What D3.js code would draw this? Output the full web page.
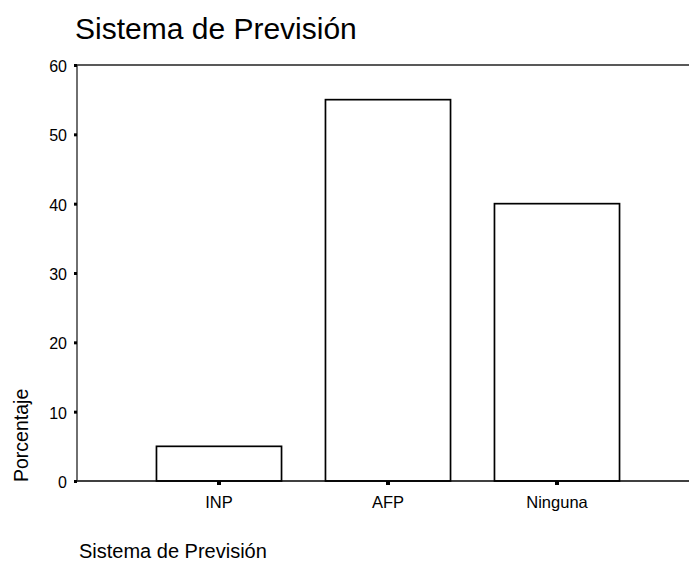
<!DOCTYPE html>
<html>
<head>
<meta charset="utf-8">
<script src="https://cdn.jsdelivr.net/npm/d3@7"></script>
<style>
  html, body { margin: 0; padding: 0; background: #fff; }
  svg { display: block; font-family: "Liberation Sans", Arial, sans-serif; }
</style>
</head>
<body>
<script>
const categories = ["INP", "AFP", "Ninguna"];
const values = [5, 55, 40];
const yTicks = [0, 10, 20, 30, 40, 50, 60];
const title = "Sistema de Previsión";
const xTitle = "Sistema de Previsión";
const yTitle = "Porcentaje";

const W = 689, H = 563;
const svg = d3.select("body").append("svg").attr("width", W).attr("height", H);

const x0 = 77, yTop = 65, yBot = 481;
const y = d3.scaleLinear().domain([0, 60]).range([yBot, yTop]);
const x = d3.scaleBand().domain(categories).range([134.5, 641.5])
  .paddingInner(0.26).paddingOuter(0.13);

// title
svg.append("text").attr("x", 75).attr("y", 39)
  .attr("font-size", 30).attr("fill", "#000").text(title);

// bars
svg.append("g").selectAll("rect").data(categories).join("rect")
  .attr("x", d => x(d))
  .attr("y", (d, i) => y(values[i]))
  .attr("width", x.bandwidth())
  .attr("height", (d, i) => yBot - y(values[i]))
  .attr("fill", "#fff").attr("stroke", "#000").attr("stroke-width", 1.7);

// frame lines (top and bottom, to right edge), y axis line
svg.append("line").attr("x1", x0).attr("x2", W).attr("y1", yTop).attr("y2", yTop)
  .attr("stroke", "#222").attr("stroke-width", 1.4);
svg.append("line").attr("x1", x0).attr("x2", W).attr("y1", yBot).attr("y2", yBot)
  .attr("stroke", "#000").attr("stroke-width", 1.7);
svg.append("line").attr("x1", x0).attr("x2", x0).attr("y1", yTop).attr("y2", yBot)
  .attr("stroke", "#333").attr("stroke-width", 1.4);

// y axis
const ya = svg.append("g").attr("transform", `translate(${x0},0)`)
  .call(d3.axisLeft(y).tickValues(yTicks).tickSizeInner(3).tickSizeOuter(0).tickPadding(7));
ya.select(".domain").remove();
ya.selectAll(".tick line").attr("stroke", "#000").attr("stroke-width", 3);
ya.selectAll(".tick text").style("font-size", "16px").attr("fill", "#000")
  .style("font-family", "'Liberation Sans', Arial, sans-serif").attr("dy", "0.4em");

// x axis
const xa = svg.append("g").attr("transform", `translate(0,${yBot})`)
  .call(d3.axisBottom(x).tickSizeInner(4).tickSizeOuter(0).tickPadding(11));
xa.select(".domain").remove();
xa.selectAll(".tick line").attr("stroke", "#000").attr("stroke-width", 4);
xa.selectAll(".tick text").style("font-size", "16.5px").attr("fill", "#000")
  .style("font-family", "'Liberation Sans', Arial, sans-serif");

// axis titles
svg.append("text").attr("x", 79).attr("y", 558)
  .attr("font-size", 20).attr("fill", "#000").text(xTitle);
svg.append("text").attr("transform", "translate(28,482) rotate(-90)")
  .attr("font-size", 19.5).attr("fill", "#000").text(yTitle);
</script>
</body>
</html>
